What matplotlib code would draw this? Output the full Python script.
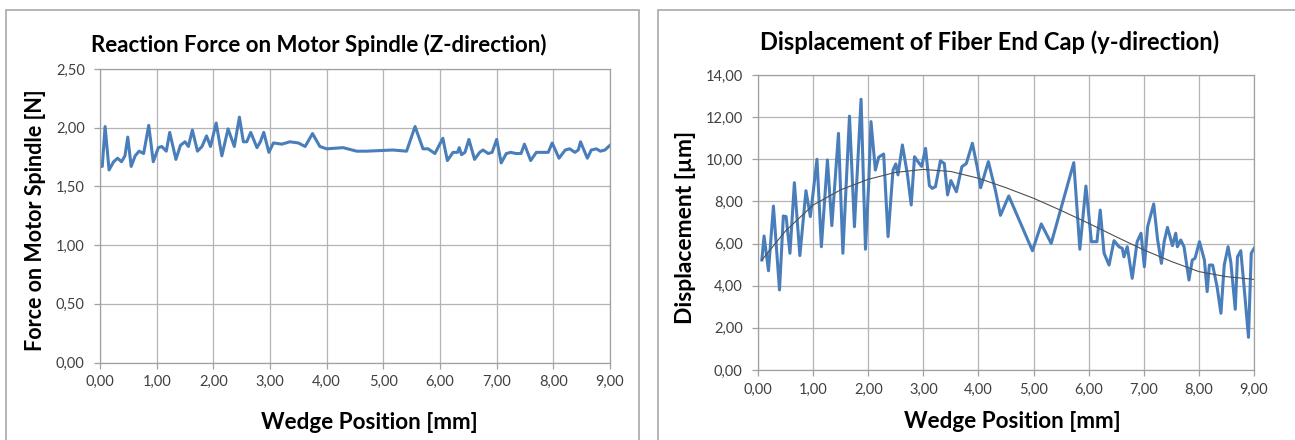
import matplotlib.pyplot as plt
from matplotlib.patches import Rectangle
from matplotlib.ticker import FuncFormatter, MultipleLocator

# Reaction force on the motor spindle (left chart)
force_x = [0.00, 0.04, 0.09, 0.16, 0.24, 0.31, 0.38, 0.44, 0.49, 0.55, 0.62, 0.69, 0.77, 0.86,
           0.94, 1.03, 1.09, 1.17, 1.23, 1.34, 1.42, 1.50, 1.56, 1.63, 1.72, 1.80, 1.88, 1.95,
           2.05, 2.15, 2.26, 2.37, 2.46, 2.53, 2.59, 2.66, 2.77, 2.83, 2.89, 2.98, 3.06, 3.21,
           3.35, 3.50, 3.62, 3.75, 3.88, 4.00, 4.29, 4.53, 4.70, 5.17, 5.41, 5.56, 5.70, 5.79,
           5.91, 6.05, 6.13, 6.23, 6.31, 6.34, 6.38, 6.44, 6.51, 6.61, 6.70, 6.76, 6.85, 6.92,
           7.00, 7.08, 7.17, 7.25, 7.34, 7.43, 7.49, 7.60, 7.70, 7.79, 7.85, 7.91, 7.98, 8.10,
           8.21, 8.29, 8.38, 8.44, 8.48, 8.60, 8.67, 8.76, 8.83, 8.91, 9.00]
force_y = [1.67, 1.67, 2.01, 1.64, 1.71, 1.74, 1.71, 1.76, 1.92, 1.67, 1.76, 1.80, 1.78, 2.02,
           1.71, 1.83, 1.84, 1.80, 1.96, 1.73, 1.85, 1.88, 1.84, 1.98, 1.80, 1.84, 1.93, 1.84,
           2.04, 1.76, 1.99, 1.84, 2.09, 1.88, 1.88, 1.96, 1.83, 1.88, 1.96, 1.79, 1.87, 1.86,
           1.88, 1.87, 1.84, 1.95, 1.84, 1.82, 1.83, 1.80, 1.80, 1.81, 1.80, 2.01, 1.82, 1.82,
           1.78, 1.91, 1.72, 1.79, 1.79, 1.83, 1.77, 1.79, 1.90, 1.73, 1.79, 1.81, 1.78, 1.79,
           1.90, 1.70, 1.78, 1.79, 1.78, 1.78, 1.86, 1.72, 1.79, 1.79, 1.79, 1.79, 1.87, 1.74,
           1.81, 1.82, 1.79, 1.81, 1.88, 1.74, 1.81, 1.82, 1.80, 1.81, 1.85]

# Displacement of the fiber end cap (right chart)
disp_x = [0.07, 0.11, 0.19, 0.28, 0.39, 0.46, 0.51, 0.58, 0.66, 0.76, 0.87, 0.95, 1.07, 1.15,
          1.26, 1.34, 1.46, 1.54, 1.66, 1.75, 1.87, 1.95, 2.01, 2.05, 2.13, 2.19, 2.28, 2.36,
          2.45, 2.50, 2.54, 2.62, 2.71, 2.78, 2.84, 2.91, 2.97, 3.04, 3.11, 3.16, 3.22, 3.31,
          3.38, 3.44, 3.50, 3.60, 3.70, 3.78, 3.89, 3.98, 4.04, 4.18, 4.31, 4.40, 4.55, 4.98,
          5.14, 5.32, 5.73, 5.84, 5.95, 6.05, 6.15, 6.21, 6.28, 6.37, 6.46, 6.55, 6.61, 6.64,
          6.70, 6.79, 6.88, 6.95, 7.01, 7.07, 7.18, 7.25, 7.32, 7.37, 7.43, 7.52, 7.58, 7.61,
          7.67, 7.73, 7.82, 7.88, 7.93, 8.01, 8.10, 8.15, 8.19, 8.25, 8.33, 8.40, 8.46, 8.53,
          8.58, 8.66, 8.70, 8.76, 8.82, 8.90, 8.95, 9.00]
disp_y = [5.22, 6.36, 4.71, 7.78, 3.80, 7.31, 7.28, 5.54, 8.89, 5.43, 8.51, 7.28, 10.00, 5.85,
          9.97, 6.85, 11.23, 5.54, 12.05, 6.80, 12.85, 5.73, 8.94, 11.79, 9.49, 10.10, 10.25, 6.33,
          9.49, 9.78, 9.26, 10.68, 9.30, 7.83, 10.12, 9.86, 9.66, 10.52, 8.75, 8.62, 8.70, 9.93,
          9.80, 8.31, 8.99, 8.46, 9.65, 9.80, 10.76, 9.60, 8.65, 9.89, 8.50, 7.34, 8.26, 5.66,
          6.93, 6.01, 9.84, 5.73, 8.73, 6.09, 6.09, 7.59, 5.54, 4.98, 6.14, 5.85, 5.77, 5.37,
          5.85, 4.35, 6.09, 6.49, 4.90, 6.80, 7.88, 6.20, 5.06, 6.09, 6.77, 5.90, 6.49, 5.85,
          6.17, 5.85, 4.27, 5.22, 5.30, 6.09, 5.22, 3.72, 4.98, 4.98, 3.95, 2.69, 4.98, 5.85,
          5.10, 2.88, 5.37, 5.66, 3.95, 1.55, 5.54, 5.77]

# trend line
trend_x = [0.07, 0.5, 1.0, 1.5, 2.0, 2.5, 3.0, 3.5, 4.0, 4.5, 5.0, 5.5, 6.0, 6.5, 7.0, 7.5,
           8.0, 8.5, 9.0]
trend_y = [5.22, 6.60, 7.83, 8.55, 9.05, 9.38, 9.52, 9.42, 9.10, 8.65, 8.15, 7.57, 6.96, 6.32,
           5.70, 5.15, 4.67, 4.43, 4.30]

BLUE = "#4a7ebb"
GRID = "#b4b4b4"
FONT = "Lato"

comma = FuncFormatter(lambda v, p: f"{v:.2f}".replace(".", ","))

fig = plt.figure(figsize=(12.95, 4.4), dpi=100)

# panel frames
W, H = 1295, 440
for x0, x1 in [(6, 639), (658, 1300)]:
    fig.patches.append(Rectangle((x0 / W, -0.05), (x1 - x0) / W, (H - 10.5) / H + 0.05,
                                 transform=fig.transFigure, fill=False,
                                 edgecolor="#a8a8a8", linewidth=1.2))


def style(ax, ymax, ystep):
    ax.set_xlim(0, 9)
    ax.set_ylim(0, ymax)
    ax.xaxis.set_major_locator(MultipleLocator(1))
    ax.yaxis.set_major_locator(MultipleLocator(ystep))
    ax.xaxis.set_major_formatter(comma)
    ax.yaxis.set_major_formatter(comma)
    ax.grid(True, color=GRID, linewidth=0.9)
    ax.set_axisbelow(True)
    for s in ax.spines.values():
        s.set_color("#a0a0a0")
        s.set_linewidth(0.9)
    ax.tick_params(direction="out", length=4, width=0.9, color="#a0a0a0",
                   labelsize=10.5, labelcolor="#404040")
    ax.tick_params(axis="y", pad=7)
    ax.tick_params(axis="x", pad=5)
    for lbl in ax.get_xticklabels() + ax.get_yticklabels():
        lbl.set_fontfamily(FONT)


ax1 = fig.add_axes([100 / W, (H - 362.5) / H, 510 / W, 293.5 / H])
ax1.plot(force_x, force_y, color=BLUE, linewidth=2.2, solid_joinstyle="round")
style(ax1, 2.5, 0.5)

ax2 = fig.add_axes([758 / W, (H - 370) / H, 496 / W, 295 / H])
ax2.plot(disp_x, disp_y, color=BLUE, linewidth=2.2, solid_joinstyle="round")
ax2.plot(trend_x, trend_y, color="#505050", linewidth=0.8)
style(ax2, 14, 2)

bold = dict(family=FONT, fontweight="bold", color="black")
fig.text(319 / W, 1 - 45 / H, "Reaction Force on Motor Spindle (Z-direction)",
         ha="center", va="center", fontsize=16, **bold)
fig.text(990 / W, 1 - 42 / H, "Displacement of Fiber End Cap (y-direction)",
         ha="center", va="center", fontsize=17, **bold)
fig.text(369 / W, 1 - 422 / H, "Wedge Position [mm]", ha="center", va="center",
         fontsize=16.2, **bold)
fig.text(1012 / W, 1 - 421 / H, "Wedge Position [mm]", ha="center", va="center",
         fontsize=16.2, **bold)
fig.text(36 / W, 1 - 220 / H, "Force on Motor Spindle [N]", ha="center", va="center",
         rotation=90, fontsize=15.5, **bold)
fig.text(686 / W, 1 - 227 / H, "Displacement [µm]", ha="center", va="center",
         rotation=90, fontsize=16.5, **bold)

fig.savefig("out.png", dpi=100)
